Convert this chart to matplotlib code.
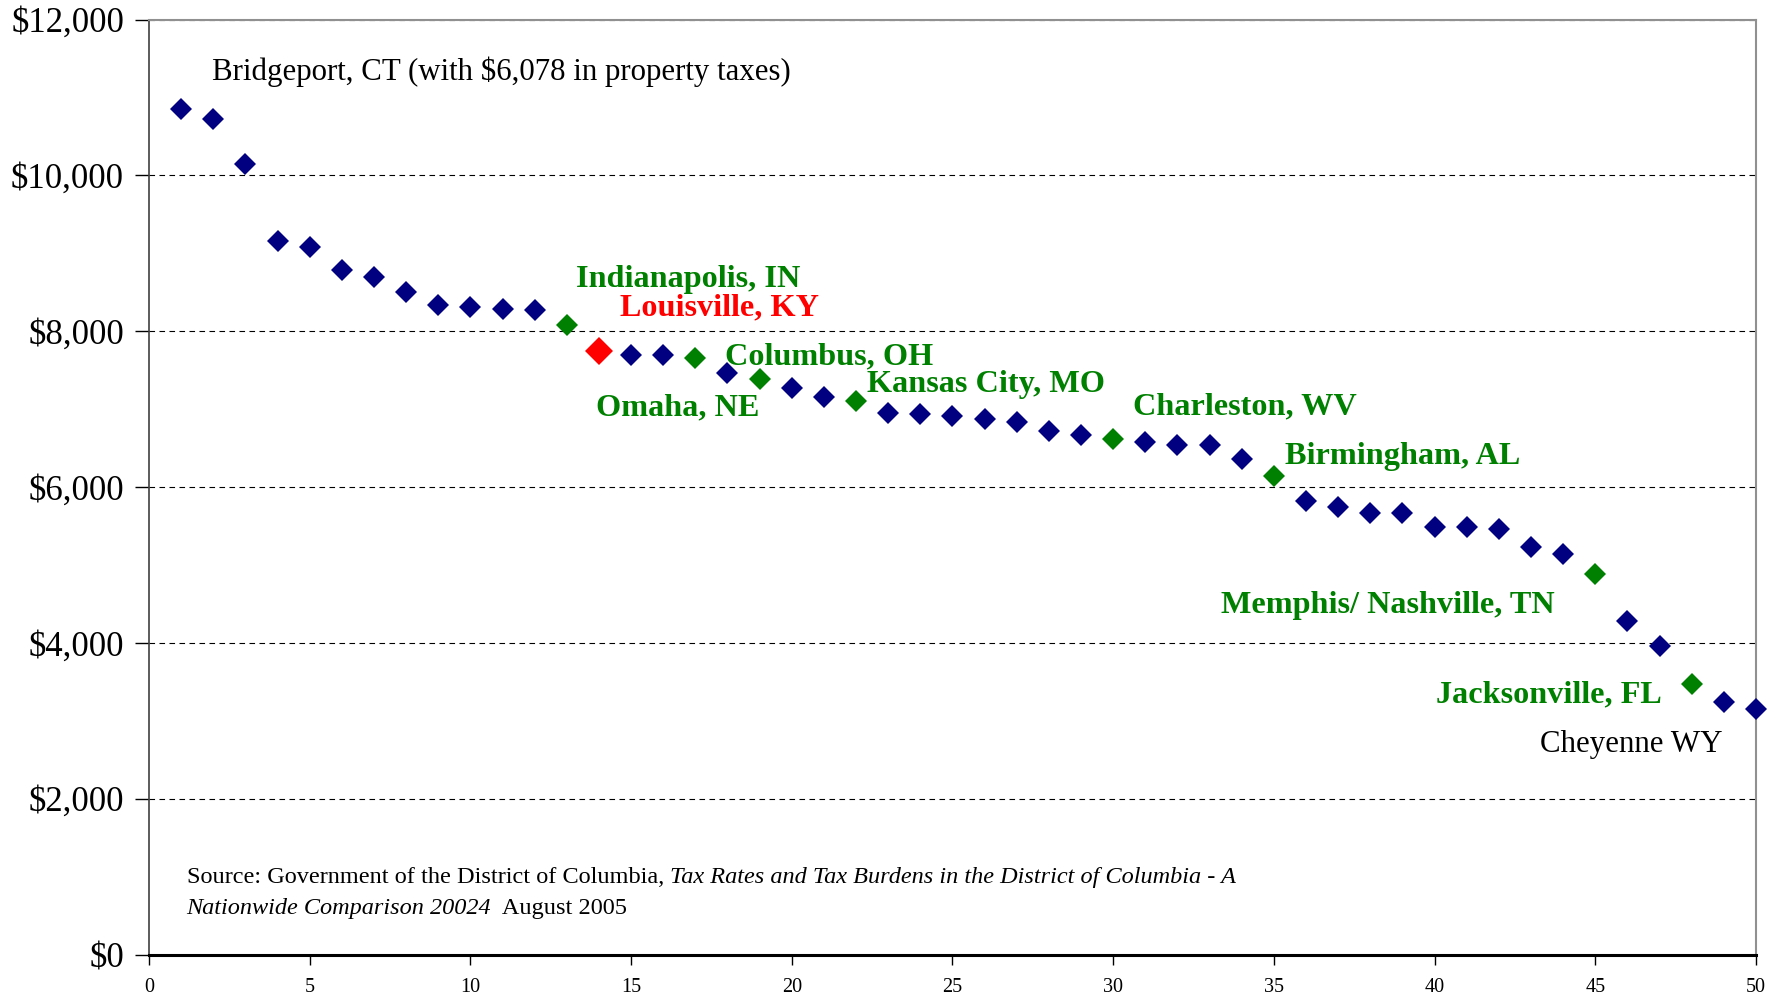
import numpy as np
import matplotlib
matplotlib.use("Agg")
import matplotlib.pyplot as plt
from matplotlib.ticker import FuncFormatter, MultipleLocator

# ====== DATA ======
rank = list(range(1, 51))
burden = [10850, 10720, 10150, 9160, 9080, 8790, 8690, 8500, 8330, 8310,
          8280, 8270, 8080, 7745, 7700, 7700, 7655, 7465, 7380, 7275,
          7160, 7100, 6955, 6940, 6910, 6870, 6840, 6720, 6665, 6620,
          6575, 6545, 6535, 6355, 6140, 5820, 5745, 5670, 5670, 5485,
          5485, 5455, 5235, 5135, 4885, 4285, 3965, 3470, 3235, 3150]
green_ranks = [13, 17, 19, 22, 30, 35, 45, 48]
red_ranks = [14]

# city labels: text, colour, x, y (data units), bold
labels = [
    ("Bridgeport, CT (with $6,078 in property taxes)", "black", 1.95, 11335, False),
    ("Indianapolis, IN", "#008000", 13.3, 8665, True),
    ("Louisville, KY", "#FF0000", 14.67, 8300, True),
    ("Columbus, OH", "#008000", 17.93, 7675, True),
    ("Omaha, NE", "#008000", 13.9, 7018, True),
    ("Kansas City, MO", "#008000", 22.35, 7310, True),
    ("Charleston, WV", "#008000", 30.62, 7032, True),
    ("Birmingham, AL", "#008000", 35.36, 6390, True),
    ("Memphis/ Nashville, TN", "#008000", 33.34, 4480, True),
    ("Jacksonville, FL", "#008000", 40.03, 3328, True),
    ("Cheyenne WY", "black", 43.28, 2695, False),
]

plt.rcParams["font.family"] = ["Liberation Serif", "DejaVu Serif"]

fig = plt.figure(figsize=(17.82, 10), dpi=100)
ax = fig.add_axes([0.0836, 0.0455, 0.9018, 0.935])

navy = [r for r in rank if r not in green_ranks and r not in red_ranks]
x = np.array(rank)
y = np.array(burden)

def pick(rs):
    idx = [rank.index(r) for r in rs]
    return x[idx], y[idx]

xn, yn = pick(navy)
ax.plot(xn, yn, "D", color="#000080", markersize=11.5, markeredgewidth=0, clip_on=False, zorder=3)
xg, yg = pick(green_ranks)
ax.plot(xg, yg, "D", color="#008000", markersize=11.5, markeredgewidth=0, clip_on=False, zorder=3)
xr, yr = pick(red_ranks)
ax.plot(xr, yr, "D", color="#FF0000", markersize=14.5, markeredgewidth=0, clip_on=False, zorder=3)

ax.set_xlim(0, 50)
ax.set_ylim(0, 12000)
ax.xaxis.set_major_locator(MultipleLocator(5))
ax.yaxis.set_major_locator(MultipleLocator(2000))
ax.yaxis.set_major_formatter(FuncFormatter(lambda v, p: f"${v:,.0f}"))

ax.grid(axis="y", color="black", linestyle=(0, (5, 4)), linewidth=0.8)
ax.set_axisbelow(True)

ax.tick_params(axis="y", direction="out", length=10, width=1, pad=8, labelsize=25)
ax.tick_params(axis="x", direction="out", length=7, width=1, pad=10, labelsize=14.5)

for side in ["top", "right"]:
    ax.spines[side].set_color("#909090")
    ax.spines[side].set_linewidth(1.5)
ax.spines["left"].set_color("#404040")
ax.spines["left"].set_linewidth(1.2)
ax.spines["bottom"].set_color("black")
ax.spines["bottom"].set_linewidth(2.2)

for txt, col, lx, ly, bold in labels:
    ax.text(lx, ly, txt, color=col, fontsize=23.2 if bold else 22.2, va="center", ha="left",
            fontweight="bold" if bold else "normal")

# source note with italic title
s1 = ax.text(1.17, 990, "Source: Government of the District of Columbia, ",
             fontsize=17.5, va="center", ha="left")
s2 = ax.annotate("Tax Rates and Tax Burdens in the District of Columbia - A",
                 xy=(1, 0), xycoords=s1, fontsize=17.5, style="italic", va="bottom", ha="left")
s3 = ax.text(1.17, 596, "Nationwide Comparison 20024", fontsize=17.5, style="italic",
             va="center", ha="left")
ax.annotate("  August 2005", xy=(1, 0), xycoords=s3, fontsize=17.5, va="bottom", ha="left")

fig.savefig("out.png", dpi=100)
